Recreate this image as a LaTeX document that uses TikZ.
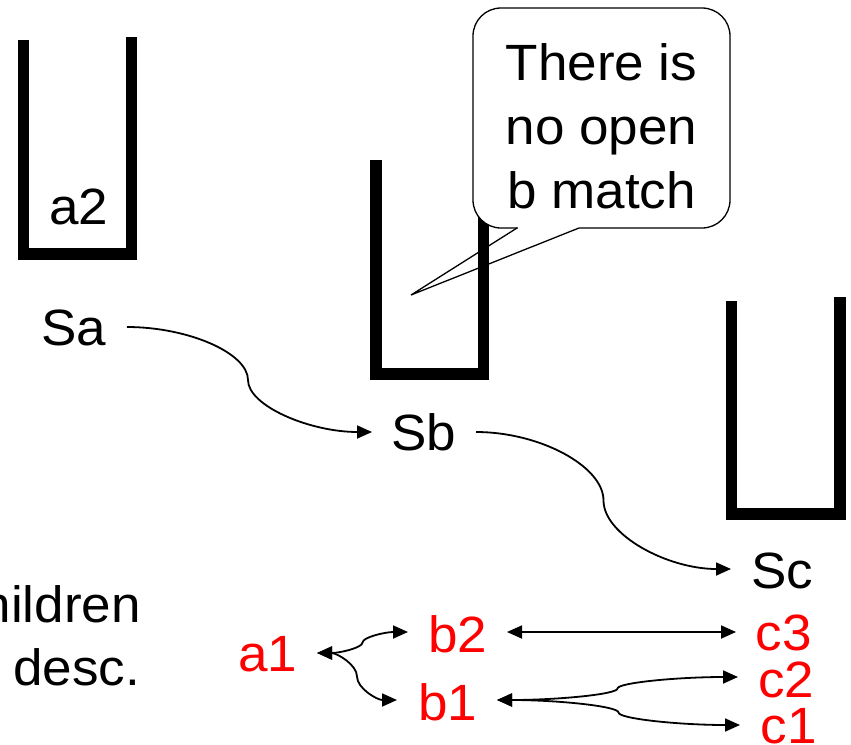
\documentclass[tikz,border=0pt]{standalone}
\usepackage{fontspec}
\setmainfont{Liberation Sans}[FakeStretch=1.04]
\usetikzlibrary{arrows.meta}
\definecolor{pred}{RGB}{255,0,0}
\tikzset{
  lbl/.style={font=\fontsize{51}{61}\selectfont, inner sep=0pt, text height=36pt, text depth=0pt, anchor=base},
  redlbl/.style={lbl, text=pred},
  stackline/.style={line width=11.5pt, line join=miter, line cap=butt},
  conn/.style={line width=1.8pt, -{Triangle[length=15pt,width=13pt]}},
  dconn/.style={line width=1.8pt, {Triangle[length=15pt,width=13pt]}-{Triangle[length=15pt,width=13pt]}},
  calloutline/.style={line width=1.3pt},
}
\begin{document}
\begin{tikzpicture}[x=1pt,y=-1pt]
\useasboundingbox (0,0) rectangle (851,744);
\clip (0,0) rectangle (851,744);

% stacks
\draw[stackline] (23.5,40) -- (23.5,254) -- (131.5,254) -- (131.5,37);
\draw[stackline] (376,160) -- (376,374) -- (483.5,374) -- (483.5,160);
\draw[stackline] (731.5,301) -- (731.5,514) -- (840,514) -- (840,297);

% callout
\node[draw, calloutline, fill=white, rounded corners=28pt, minimum width=257pt, minimum height=220pt, inner sep=0pt, outer sep=0pt] (cbox) at (601.5,118) {};
\fill[white] ([shift={(-84,-2.5)}]cbox.south) rectangle ([shift={(-23,2.5)}]cbox.south);
\coordinate (ptip) at (411,295);
\draw[calloutline] ([shift={(-84.5,0)}]cbox.south) -- (ptip) -- ([shift={(-22.5,0)}]cbox.south);
\node[font=\fontsize{51}{64}\selectfont, align=center, anchor=north, inner sep=0pt] (ctext) at (601.5,43) {There is\\no open\\b match};

% labels
\node[lbl] (a2) at (78.5,224) {a2};
\node[lbl] (Sa) at (73.5,345) {Sa};
\node[lbl] (Sb) at (424,450) {Sb};
\node[lbl] (Sc) at (782,588) {Sc};
\node[lbl, anchor=base east] (children) at (141,622) {children};
\node[lbl, anchor=base east] (desc) at (140,685) {desc.};

\node[redlbl] (a1) at (268,671) {a1};
\node[redlbl] (b2) at (457.5,652) {b2};
\node[redlbl] (b1) at (447.5,720) {b1};
\node[redlbl] (c3) at (783.5,650) {c3};
\node[redlbl] (c2) at (786,697) {c2};
\node[redlbl] (c1) at (788.5,743) {c1};

% connectors between stacks
\coordinate (m1) at (248,380);
\draw[conn] ([shift={(53.5,0)}]Sa.center) .. controls (188,327) and (248,353) .. (m1)
  .. controls (248,406) and (310,432) .. ([shift={(-52,0)}]Sb.center);
\coordinate (m2) at (603.5,500.5);
\draw[conn] ([shift={(52,0)}]Sb.center) .. controls (539.75,432) and (603.5,466.25) .. (m2)
  .. controls (603.5,534.75) and (667.25,569) .. ([shift={(-51,-1)}]Sc.center);

% match connectors
\coordinate (m3) at (362.5,642.5);
\draw[dconn] ([shift={(49,0)}]a1.center) .. controls (339.75,653) and (362.5,647.75) .. (m3)
  .. controls (362.5,637.25) and (385.25,632) .. ([shift={(-49.5,-2)}]b2.center);
\coordinate (m4) at (357,676.5);
\draw[dconn] ([shift={(49,0)}]a1.center) .. controls (337,653) and (357,664.75) .. (m4)
  .. controls (357,688.25) and (377,700) .. ([shift={(-50.5,-2)}]b1.center);
\draw[dconn] ([shift={(49.5,-2)}]b2.center) -- ([shift={(-47.5,0)}]c3.center);
\coordinate (m5) at (617.5,688.5);
\draw[dconn] ([shift={(49.5,-2)}]b1.center) .. controls (557.75,700) and (617.5,694.25) .. (m5)
  .. controls (617.5,682.75) and (677.75,677) .. ([shift={(-48,-2)}]c2.center);
\coordinate (m6) at (618.5,712.5);
\draw[dconn] ([shift={(49.5,-2)}]b1.center) .. controls (557.75,700) and (618.5,706.25) .. (m6)
  .. controls (618.5,718.75) and (679.25,725) .. ([shift={(-48.5,0)}]c1.center);
\end{tikzpicture}
\end{document}
